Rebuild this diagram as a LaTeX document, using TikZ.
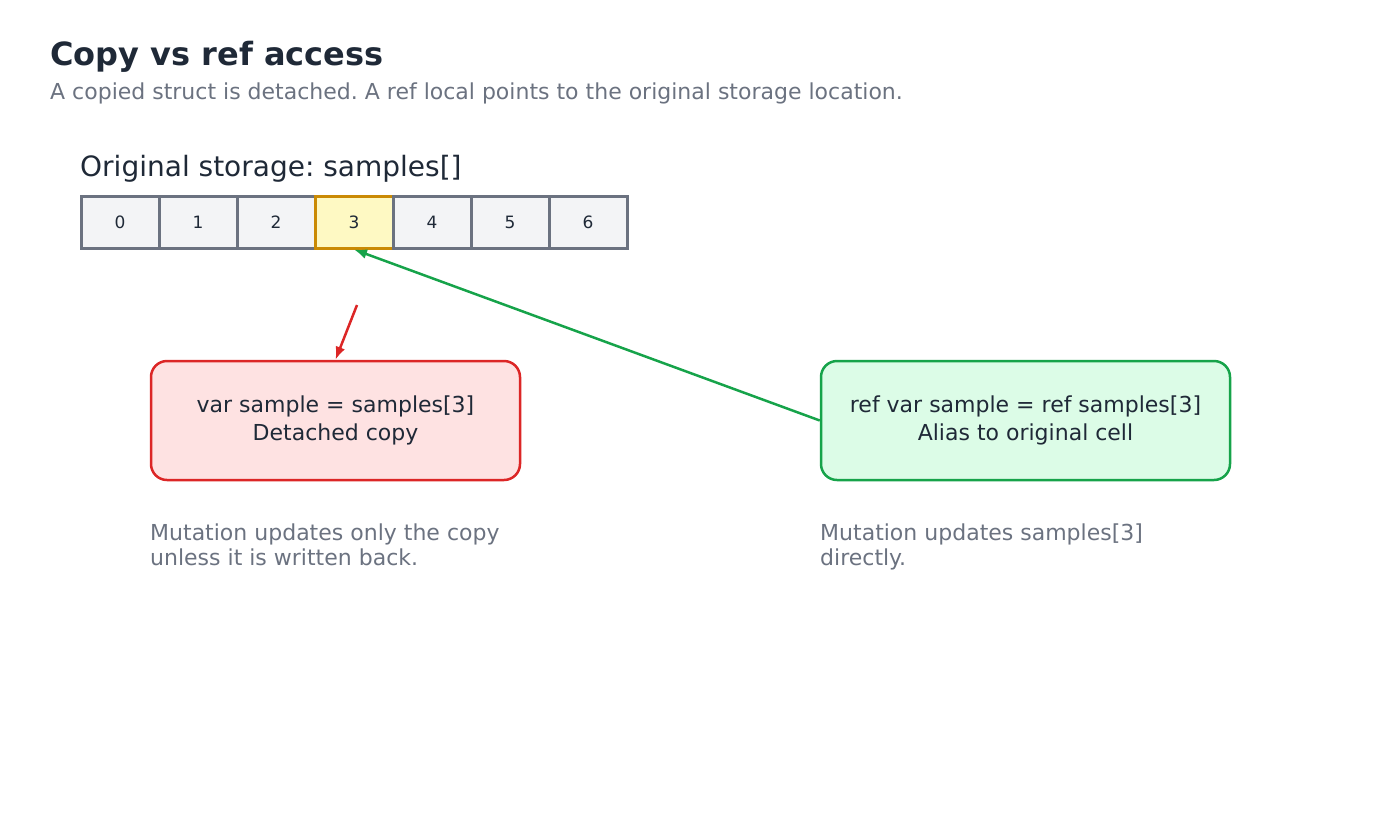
\documentclass[tikz,border=0pt]{standalone}
\usepackage{fontspec}
\setmainfont{DejaVu Sans}
\usepackage{xcolor}
\usetikzlibrary{positioning, arrows.meta}
\frenchspacing

\definecolor{inkdark}{HTML}{1F2937}
\definecolor{inkgray}{HTML}{6B7280}
\definecolor{cellfill}{HTML}{F3F4F6}
\definecolor{hotfill}{HTML}{FEF9C3}
\definecolor{hotline}{HTML}{CA8A04}
\definecolor{copyred}{HTML}{DC2626}
\definecolor{copyfill}{HTML}{FEE2E2}
\definecolor{refgreen}{HTML}{16A34A}
\definecolor{reffill}{HTML}{DCFCE7}

\tikzset{
  cell/.style={rectangle, draw=inkgray, fill=cellfill, line width=3pt, minimum width=78pt, minimum height=52pt, inner sep=0pt, text=inkdark, font=\fontsize{17}{20}\selectfont},
  hotcell/.style={cell, draw=hotline, fill=hotfill},
  accessbox/.style={rectangle, rounded corners=16pt, line width=2.5pt, minimum width=369pt, minimum height=119pt, align=center, text=inkdark, font=\fontsize{22}{28}\selectfont},
  note/.style={anchor=base west, align=left, inner sep=0pt, text=inkgray, font=\fontsize{22}{25}\selectfont}
}

\begin{document}
\begin{tikzpicture}[x=1pt, y=-1pt, >={Latex[length=13pt, width=10pt]}]
    \useasboundingbox (0,0) rectangle (1400,820);

    \node (title) [anchor=base west, inner sep=0pt, text=inkdark, font=\fontsize{32}{38}\selectfont\bfseries] at (50,65) {Copy vs ref access};
    \node (subtitle) [anchor=base west, inner sep=0pt, text=inkgray, font=\fontsize{22}{26}\selectfont] at (50,99) {A copied struct is detached. A ref local points to the original storage location.};
    \node (storage) [anchor=base west, inner sep=0pt, text=inkdark, font=\fontsize{28}{32}\selectfont] at (80,176) {Original storage: samples[]};

    % array cells
    \foreach \i in {0,...,6} {
        \ifnum\i=3
            \node (c\i) [hotcell] at (120+78*\i,222) {\i};
        \else
            \node (c\i) [cell] at (120+78*\i,222) {\i};
        \fi
    }

    \node (copybox) [accessbox, draw=copyred, fill=copyfill] at (335.5,420.5) {var sample = samples[3]\\Detached copy};
    \node (refbox) [accessbox, draw=refgreen, fill=reffill, minimum width=409pt] at (1025.5,420.5) {ref var sample = ref samples[3]\\Alias to original cell};

    \node (copynote) [note] at (150,565) {Mutation updates only the copy\\unless it is written back.};
    \node (refnote) [note] at (820,565) {Mutation updates samples[3]\\directly.};

    \coordinate (copyfrom) at (357,305);
    \draw[->, copyred, line width=2.5pt] (copyfrom) -- (copybox.north);
    \draw[->, refgreen, line width=2.5pt] (refbox.west) -- (c3.south);
\end{tikzpicture}
\end{document}
